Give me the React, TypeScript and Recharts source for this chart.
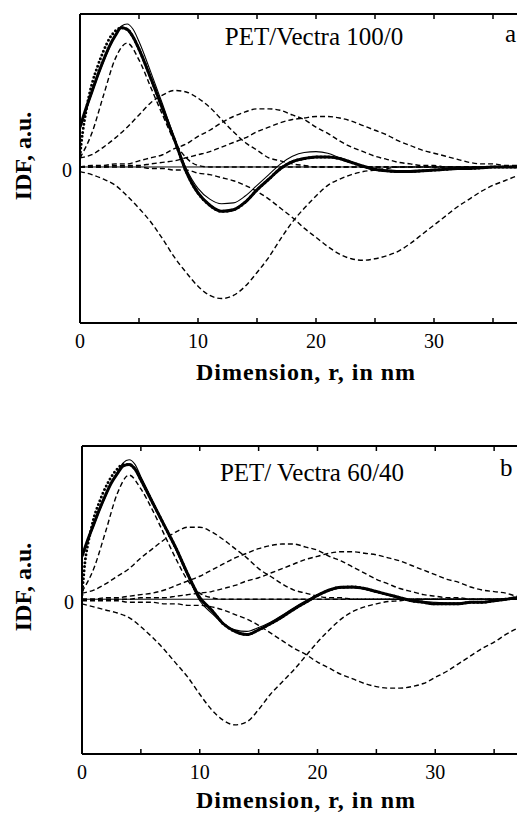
import { LineChart, Line, XAxis, YAxis, ReferenceLine } from 'recharts';

const FONT = '"Liberation Serif", "Times New Roman", serif';

// r grids (nm)
const rGrid = [0, 1, 2, 3, 4, 5, 6, 7, 8, 9, 10, 11, 12, 13, 14, 15, 16, 17, 18, 19, 20, 21, 22, 23, 24, 25, 26, 27, 28, 29, 30, 31, 32, 33, 34, 35, 36, 37, 38];
const rFine = [0, 0.5, 1, 1.5, 2, 2.5, 3, 3.5, 4, 4.5, 5, 6, 7, 8, 9, 10, 11, 12, 13, 14, 15, 16, 17, 18, 19, 20, 21, 22, 23, 24, 25, 26, 27, 28, 29, 30, 31, 32, 33, 34, 35, 36, 37, 38];
const rDots = [0, 0.1, 0.25, 0.5, 0.75, 1, 1.5, 2, 2.5, 3, 3.5, 4, 4.5, 5, 6, 7, 8, 9, 10, 11, 12, 13, 14, 15, 16, 17, 18, 19, 20, 21, 22, 23, 24, 25, 26, 27, 28, 29, 30, 31, 32, 33, 34, 35, 36, 37, 38];

const xTicks = [0, 5, 10, 15, 20, 25, 30, 35, 40];
const xLabels = [0, 10, 20, 30];

// --- panel a: PET/Vectra 100/0 ---
const aExp = [0.07, 0.15, 0.24, 0.36, 0.46, 0.54, 0.66, 0.76, 0.84, 0.89, 0.91, 0.90, 0.85, 0.77, 0.58, 0.38, 0.18, -0.03, -0.17, -0.25, -0.29, -0.28, -0.23, -0.15, -0.08, -0.01, 0.035, 0.055, 0.065, 0.065, 0.055, 0.03, 0.005, -0.015, -0.025, -0.03, -0.03, -0.025, -0.02, -0.015, -0.01, -0.01, -0.005, 0, 0, 0, 0];
const aFit = [0.26, 0.38, 0.49, 0.60, 0.70, 0.79, 0.86, 0.91, 0.90, 0.85, 0.77, 0.58, 0.38, 0.18, -0.03, -0.17, -0.25, -0.29, -0.28, -0.23, -0.15, -0.08, -0.01, 0.035, 0.055, 0.065, 0.065, 0.055, 0.03, 0.005, -0.015, -0.025, -0.03, -0.03, -0.025, -0.02, -0.015, -0.01, -0.01, -0.005, 0, 0, 0, 0];
const aCalc = [0.26, 0.37, 0.48, 0.59, 0.69, 0.78, 0.86, 0.92, 0.935, 0.90, 0.82, 0.62, 0.41, 0.19, -0.01, -0.14, -0.21, -0.24, -0.235, -0.19, -0.12, -0.05, 0.02, 0.07, 0.095, 0.10, 0.09, 0.06, 0.03, 0, -0.02, -0.03, -0.035, -0.035, -0.03, -0.02, -0.015, -0.01, -0.005, 0, 0, 0, 0, 0];
const aPos1 = [0.06, 0.22, 0.47, 0.71, 0.81, 0.70, 0.52, 0.34, 0.17, 0.06, 0.01, 0, 0, 0, 0, 0, 0, 0, 0, 0, 0, 0, 0, 0, 0, 0, 0, 0, 0, 0, 0, 0, 0, 0, 0, 0, 0, 0, 0];
const aPos2 = [0.06, 0.08, 0.13, 0.19, 0.26, 0.34, 0.42, 0.47, 0.50, 0.49, 0.45, 0.39, 0.31, 0.23, 0.16, 0.11, 0.06, 0.04, 0.02, 0.01, 0, 0, 0, 0, 0, 0, 0, 0, 0, 0, 0, 0, 0, 0, 0, 0, 0, 0, 0];
const aPos3 = [0, 0.01, 0.01, 0.02, 0.02, 0.04, 0.06, 0.08, 0.12, 0.15, 0.20, 0.24, 0.29, 0.33, 0.36, 0.38, 0.38, 0.37, 0.34, 0.31, 0.26, 0.22, 0.17, 0.13, 0.10, 0.07, 0.05, 0.03, 0.02, 0.01, 0.01, 0, 0, 0, 0, 0, 0, 0, 0];
const aPos4 = [0, 0, 0, 0.01, 0.01, 0.01, 0.02, 0.03, 0.04, 0.06, 0.08, 0.10, 0.13, 0.16, 0.19, 0.23, 0.26, 0.29, 0.31, 0.32, 0.33, 0.33, 0.32, 0.30, 0.27, 0.24, 0.21, 0.17, 0.14, 0.11, 0.09, 0.07, 0.05, 0.03, 0.02, 0.02, 0.01, 0.01, 0];
const aNeg1 = [-0.03, -0.05, -0.08, -0.12, -0.19, -0.27, -0.36, -0.47, -0.59, -0.69, -0.78, -0.84, -0.86, -0.84, -0.78, -0.69, -0.59, -0.47, -0.36, -0.27, -0.19, -0.12, -0.08, -0.05, -0.03, -0.02, -0.01, 0, 0, 0, 0, 0, 0, 0, 0, 0, 0, 0, 0];
const aNeg2 = [0, 0, 0, 0, 0, 0, -0.01, -0.01, -0.02, -0.02, -0.04, -0.05, -0.07, -0.09, -0.12, -0.16, -0.21, -0.27, -0.33, -0.40, -0.46, -0.52, -0.57, -0.60, -0.61, -0.60, -0.58, -0.55, -0.50, -0.44, -0.38, -0.32, -0.26, -0.21, -0.16, -0.12, -0.09, -0.06, -0.04];

// --- panel b: PET/ Vectra 60/40 ---
const bExp = [0.03, 0.12, 0.24, 0.36, 0.45, 0.53, 0.64, 0.73, 0.80, 0.85, 0.88, 0.88, 0.85, 0.78, 0.63, 0.48, 0.33, 0.16, 0.01, -0.07, -0.16, -0.21, -0.23, -0.20, -0.16, -0.115, -0.065, -0.02, 0.025, 0.06, 0.078, 0.08, 0.07, 0.05, 0.03, 0.01, -0.01, -0.02, -0.03, -0.03, -0.03, -0.02, -0.02, -0.01, 0, 0.01, 0.01];
const bFit = [0.28, 0.39, 0.49, 0.59, 0.68, 0.76, 0.82, 0.87, 0.88, 0.85, 0.78, 0.63, 0.48, 0.33, 0.16, 0.01, -0.07, -0.16, -0.21, -0.23, -0.20, -0.16, -0.115, -0.065, -0.02, 0.025, 0.06, 0.078, 0.08, 0.07, 0.05, 0.03, 0.01, -0.01, -0.02, -0.03, -0.03, -0.03, -0.02, -0.02, -0.01, 0, 0.01, 0.01];
const bCalc = [0.28, 0.38, 0.48, 0.58, 0.67, 0.76, 0.83, 0.89, 0.91, 0.88, 0.80, 0.64, 0.48, 0.32, 0.15, -0.01, -0.09, -0.16, -0.20, -0.21, -0.185, -0.15, -0.105, -0.055, -0.01, 0.03, 0.058, 0.074, 0.075, 0.065, 0.05, 0.03, 0.01, -0.005, -0.015, -0.02, -0.025, -0.025, -0.02, -0.015, -0.01, 0, 0.005, 0.01];
const bPos1 = [0.05, 0.20, 0.44, 0.69, 0.81, 0.72, 0.58, 0.42, 0.26, 0.12, 0.04, 0.01, 0, 0, 0, 0, 0, 0, 0, 0, 0, 0, 0, 0, 0, 0, 0, 0, 0, 0, 0, 0, 0, 0, 0, 0, 0, 0, 0];
const bPos2 = [0.04, 0.06, 0.10, 0.15, 0.20, 0.27, 0.33, 0.39, 0.44, 0.47, 0.47, 0.44, 0.39, 0.33, 0.27, 0.20, 0.15, 0.10, 0.06, 0.04, 0.02, 0.01, 0.01, 0, 0, 0, 0, 0, 0, 0, 0, 0, 0, 0, 0, 0, 0, 0, 0];
const bPos3 = [0, 0, 0.01, 0.01, 0.02, 0.03, 0.04, 0.06, 0.09, 0.12, 0.15, 0.19, 0.23, 0.27, 0.30, 0.33, 0.35, 0.36, 0.36, 0.34, 0.32, 0.28, 0.25, 0.21, 0.17, 0.13, 0.10, 0.07, 0.05, 0.03, 0.02, 0.01, 0.01, 0, 0, 0, 0, 0, 0];
const bPos4 = [0, 0, 0, 0, 0, 0.01, 0.01, 0.01, 0.02, 0.03, 0.04, 0.05, 0.07, 0.09, 0.12, 0.14, 0.17, 0.20, 0.23, 0.26, 0.28, 0.30, 0.31, 0.31, 0.30, 0.29, 0.27, 0.25, 0.22, 0.19, 0.16, 0.13, 0.11, 0.08, 0.06, 0.05, 0.04, 0.02, 0.02];
const bNeg1 = [-0.03, -0.05, -0.07, -0.09, -0.12, -0.18, -0.25, -0.33, -0.42, -0.51, -0.62, -0.72, -0.79, -0.82, -0.80, -0.72, -0.62, -0.54, -0.46, -0.37, -0.28, -0.20, -0.13, -0.08, -0.05, -0.03, -0.015, -0.01, 0, 0, 0, 0, 0, 0, 0, 0, 0, 0, 0];
const bNeg2 = [-0.01, -0.01, -0.01, -0.01, -0.02, -0.02, -0.02, -0.03, -0.03, -0.04, -0.04, -0.05, -0.07, -0.10, -0.13, -0.17, -0.22, -0.27, -0.32, -0.36, -0.41, -0.45, -0.49, -0.52, -0.55, -0.57, -0.58, -0.58, -0.57, -0.55, -0.51, -0.47, -0.42, -0.37, -0.32, -0.28, -0.23, -0.19, -0.16];

const toRows = (xs: number[], ys: number[]) => ys.map((v, i) => ({ r: xs[i], v }));

function BottomTick(props: any) {
  const { x, y, payload } = props;
  return (
    <g>
      <line x1={x} y1={y} x2={x} y2={y - 5} stroke="#000" strokeWidth={1.5} />
      {xLabels.includes(payload.value) && (
        <text x={x} y={y + 25} textAnchor="middle" fontFamily={FONT} fontSize={20} fill="#000">
          {payload.value}
        </text>
      )}
    </g>
  );
}

function TopTick(props: any) {
  const { x, y } = props;
  return <line x1={x} y1={y} x2={x} y2={y + 5} stroke="#000" strokeWidth={1.5} />;
}

function ZeroTick(props: any) {
  const { x, y, payload } = props;
  return (
    <text x={x - 8} y={y + 10} textAnchor="end" fontFamily={FONT} fontSize={20} fill="#000">
      {payload.value}
    </text>
  );
}

interface PanelProps {
  top: number;
  margin: { top: number; right: number; left: number; bottom: number };
  yMin: number;
  title: string;
  titleX: number;
  titleY: number;
  letter: string;
  letterX: number;
  letterY: number;
  yLabelY: number;
  xLabelY: number;
  comps: number[][];
  calc: number[];
  fit: number[];
  exp: number[];
}

function Panel(p: PanelProps) {
  const axisLine = { stroke: '#000', strokeWidth: 2 };
  return (
    <div style={{ position: 'absolute', left: 0, top: p.top, width: 600, height: 400 }}>
      <LineChart width={600} height={400} margin={p.margin}>
        <XAxis
          xAxisId="b"
          type="number"
          dataKey="r"
          domain={[0, 40]}
          ticks={xTicks}
          allowDataOverflow
          height={40}
          axisLine={axisLine}
          tickLine={false}
          tickSize={0}
          tickMargin={0}
          tick={<BottomTick />}
        />
        <XAxis
          xAxisId="t"
          orientation="top"
          type="number"
          dataKey="r"
          domain={[0, 40]}
          ticks={xTicks}
          allowDataOverflow
          height={10}
          axisLine={axisLine}
          tickLine={false}
          tickSize={0}
          tickMargin={0}
          tick={<TopTick />}
        />
        <YAxis
          type="number"
          domain={[p.yMin, 1]}
          ticks={[0]}
          allowDataOverflow
          width={20}
          axisLine={axisLine}
          tickLine={false}
          tickSize={0}
          tickMargin={0}
          tick={<ZeroTick />}
        />
        <ReferenceLine xAxisId="b" y={0} stroke="#000" strokeWidth={1} />
        {p.comps.map((ys, i) => (
          <Line
            key={`c${i}`}
            xAxisId="b"
            data={toRows(rGrid, ys)}
            dataKey="v"
            type="monotone"
            stroke="#000"
            strokeWidth={1.4}
            strokeDasharray="5 3"
            dot={false}
            activeDot={false}
            isAnimationActive={false}
          />
        ))}
        <Line
          xAxisId="b"
          data={toRows(rFine, p.calc)}
          dataKey="v"
          type="monotone"
          stroke="#000"
          strokeWidth={1.1}
          dot={false}
          activeDot={false}
          isAnimationActive={false}
        />
        <Line
          xAxisId="b"
          data={toRows(rFine, p.fit)}
          dataKey="v"
          type="monotone"
          stroke="#000"
          strokeWidth={3}
          dot={false}
          activeDot={false}
          isAnimationActive={false}
        />
        <Line
          xAxisId="b"
          data={toRows(rDots, p.exp)}
          dataKey="v"
          type="monotone"
          stroke="#000"
          strokeWidth={3}
          strokeDasharray="0 4"
          strokeLinecap="round"
          dot={false}
          activeDot={false}
          isAnimationActive={false}
        />
      </LineChart>
      <svg width={600} height={400} style={{ position: 'absolute', left: 0, top: 0, pointerEvents: 'none' }}>
        <text x={p.titleX} y={p.titleY} textAnchor="middle" fontFamily={FONT} fontSize={25} fill="#000">
          {p.title}
        </text>
        <text x={p.letterX} y={p.letterY} fontFamily={FONT} fontSize={25} fill="#000">
          {p.letter}
        </text>
        <text
          transform={`translate(23, ${p.yLabelY}) rotate(-90)`}
          textAnchor="middle"
          dominantBaseline="central"
          fontFamily={FONT}
          fontWeight="bold"
          fontSize={24}
          fill="#000"
        >
          IDF, a.u.
        </text>
        <text
          x={306}
          y={p.xLabelY}
          textAnchor="middle"
          fontFamily={FONT}
          fontWeight="bold"
          fontSize={24}
          letterSpacing={1}
          fill="#000"
        >
          Dimension, r, in nm
        </text>
      </svg>
    </div>
  );
}

export default function App() {
  return (
    <div
      style={{
        position: 'absolute',
        left: 0,
        top: 0,
        width: 517,
        height: 814,
        overflow: 'hidden',
        background: '#fff',
      }}
    >
      <Panel
        top={0}
        margin={{ top: 4, right: 48, left: 60, bottom: 37 }}
        yMin={-1.02}
        title="PET/Vectra 100/0"
        titleX={314}
        titleY={45}
        letter="a"
        letterX={505}
        letterY={42}
        yLabelY={156}
        xLabelY={380}
        comps={[aPos1, aPos2, aPos3, aPos4, aNeg1, aNeg2]}
        calc={aCalc}
        fit={aFit}
        exp={aExp}
      />
      <Panel
        top={430}
        margin={{ top: 6, right: 47, left: 62, bottom: 36 }}
        yMin={-1.01}
        title="PET/ Vectra 60/40"
        titleX={312}
        titleY={51}
        letter="b"
        letterX={500}
        letterY={46}
        yLabelY={157}
        xLabelY={378}
        comps={[bPos1, bPos2, bPos3, bPos4, bNeg1, bNeg2]}
        calc={bCalc}
        fit={bFit}
        exp={bExp}
      />
    </div>
  );
}
